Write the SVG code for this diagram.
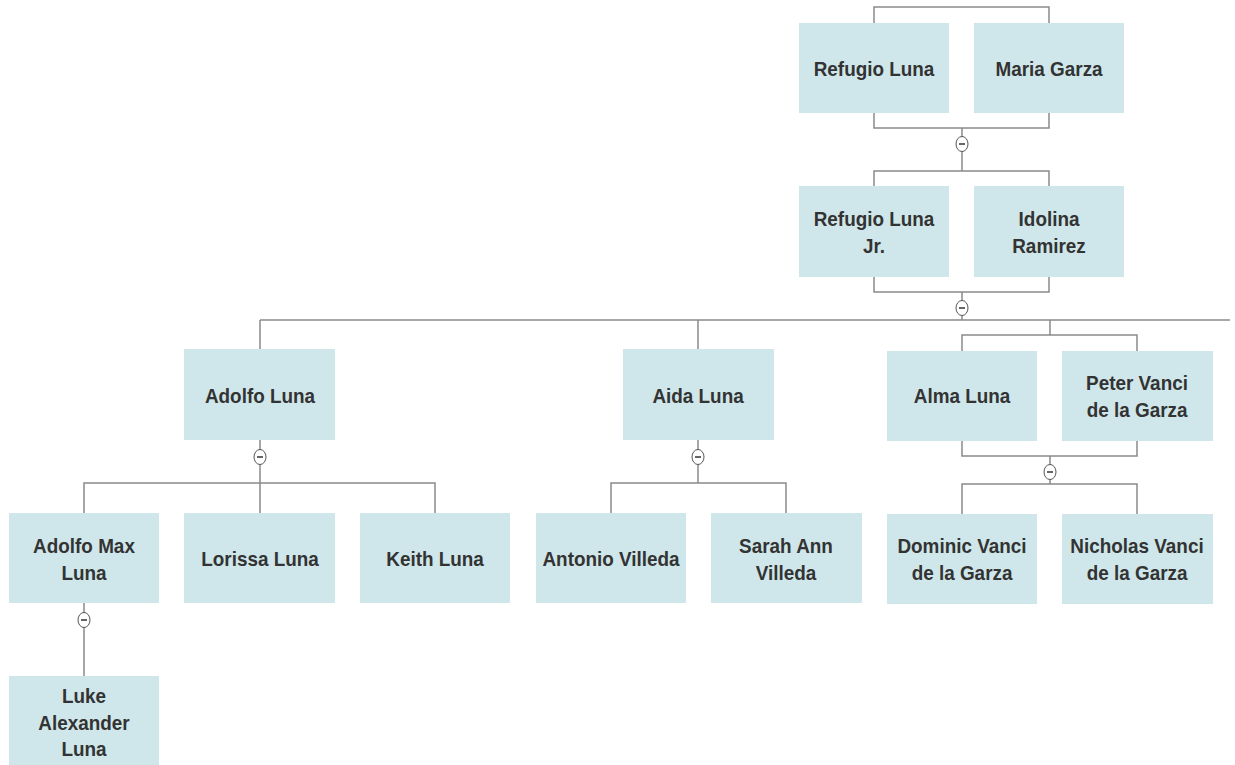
<svg xmlns="http://www.w3.org/2000/svg" width="1235" height="765" viewBox="0 0 1235 765">
  <style>
    .box { fill: #cfe7ea; }
    .lbl { font-family: "Liberation Sans", Arial, sans-serif; font-weight: bold; font-size: 21px; fill: #333333; text-anchor: middle; transform-box: fill-box; transform-origin: center; transform: scaleX(0.9); }
    .wire { fill: none; stroke: #8a8a8a; stroke-width: 1.5; }
    .tog { fill: #ffffff; stroke: #555555; stroke-width: 1; }
    .tog-bar { stroke: #333333; stroke-width: 1.5; }
  </style>
  <defs>
    <g id="toggle">
      <ellipse class="tog" cx="0" cy="0" rx="6" ry="7.5"/>
      <line class="tog-bar" x1="-3" y1="0" x2="3" y2="0"/>
    </g>
  </defs>
  <rect width="1235" height="765" fill="#ffffff"/>

  <g id="connectors">
    <!-- couple bracket: Refugio Luna / Maria Garza -->
    <path class="wire" d="M874 23 V7 H1049 V23"/>
    <path class="wire" d="M874 113 V128 H1049 V113"/>
    <path class="wire" d="M962 128 V171"/>
    <!-- couple bracket: Refugio Luna Jr. / Idolina Ramirez -->
    <path class="wire" d="M874 186 V171 H1049 V186"/>
    <path class="wire" d="M874 277 V292 H1049 V277"/>
    <path class="wire" d="M962 292 V320"/>
    <!-- children bus -->
    <path class="wire" d="M260 320 H1230"/>
    <path class="wire" d="M260 320 V349"/>
    <path class="wire" d="M698 320 V349"/>
    <path class="wire" d="M1050 320 V335"/>
    <path class="wire" d="M962 351 V335 H1137 V351"/>
    <!-- Adolfo Luna's children -->
    <path class="wire" d="M260 440 V483"/>
    <path class="wire" d="M84 513 V483 H435 V513"/>
    <path class="wire" d="M260 483 V513"/>
    <!-- Adolfo Max Luna's child -->
    <path class="wire" d="M84 603 V676"/>
    <!-- Aida Luna's children -->
    <path class="wire" d="M698 440 V483"/>
    <path class="wire" d="M611 513 V483 H786 V513"/>
    <!-- Alma Luna / Peter Vanci's children -->
    <path class="wire" d="M962 441 V456 H1137 V441"/>
    <path class="wire" d="M1050 456 V484"/>
    <path class="wire" d="M962 514 V484 H1137 V514"/>
    <!-- collapse toggles -->
    <use href="#toggle" x="962" y="144"/>
    <use href="#toggle" x="962" y="308"/>
    <use href="#toggle" x="260" y="457"/>
    <use href="#toggle" x="698" y="457"/>
    <use href="#toggle" x="1050" y="472"/>
    <use href="#toggle" x="84" y="620"/>
  </g>

  <g id="refugio-luna">
    <rect class="box" x="799" y="23" width="150" height="90"/>
    <text class="lbl" x="874" y="76">Refugio Luna</text>
  </g>
  <g id="maria-garza">
    <rect class="box" x="974" y="23" width="150" height="90"/>
    <text class="lbl" x="1049" y="76">Maria Garza</text>
  </g>

  <g id="refugio-luna-jr">
    <rect class="box" x="799" y="186" width="150" height="91"/>
    <text class="lbl" x="874" y="226">Refugio Luna</text>
    <text class="lbl" x="874" y="253">Jr.</text>
  </g>
  <g id="idolina-ramirez">
    <rect class="box" x="974" y="186" width="150" height="91"/>
    <text class="lbl" x="1049" y="226">Idolina</text>
    <text class="lbl" x="1049" y="253">Ramirez</text>
  </g>

  <g id="adolfo-luna">
    <rect class="box" x="184" y="349" width="151" height="91"/>
    <text class="lbl" x="260" y="403">Adolfo Luna</text>
  </g>
  <g id="aida-luna">
    <rect class="box" x="623" y="349" width="151" height="91"/>
    <text class="lbl" x="698" y="403">Aida Luna</text>
  </g>
  <g id="alma-luna">
    <rect class="box" x="887" y="351" width="150" height="90"/>
    <text class="lbl" x="962" y="403">Alma Luna</text>
  </g>
  <g id="peter-vanci">
    <rect class="box" x="1062" y="351" width="151" height="90"/>
    <text class="lbl" x="1137" y="390">Peter Vanci</text>
    <text class="lbl" x="1137" y="417">de la Garza</text>
  </g>

  <g id="adolfo-max-luna">
    <rect class="box" x="9" y="513" width="150" height="90"/>
    <text class="lbl" x="84" y="553">Adolfo Max</text>
    <text class="lbl" x="84" y="580">Luna</text>
  </g>
  <g id="lorissa-luna">
    <rect class="box" x="184" y="513" width="151" height="90"/>
    <text class="lbl" x="260" y="566">Lorissa Luna</text>
  </g>
  <g id="keith-luna">
    <rect class="box" x="360" y="513" width="150" height="90"/>
    <text class="lbl" x="435" y="566">Keith Luna</text>
  </g>
  <g id="antonio-villeda">
    <rect class="box" x="536" y="513" width="150" height="90"/>
    <text class="lbl" x="611" y="566">Antonio Villeda</text>
  </g>
  <g id="sarah-ann-villeda">
    <rect class="box" x="711" y="513" width="151" height="90"/>
    <text class="lbl" x="786" y="553">Sarah Ann</text>
    <text class="lbl" x="786" y="580">Villeda</text>
  </g>
  <g id="dominic-vanci">
    <rect class="box" x="887" y="514" width="150" height="90"/>
    <text class="lbl" x="962" y="553">Dominic Vanci</text>
    <text class="lbl" x="962" y="580">de la Garza</text>
  </g>
  <g id="nicholas-vanci">
    <rect class="box" x="1062" y="514" width="151" height="90"/>
    <text class="lbl" x="1137" y="553">Nicholas Vanci</text>
    <text class="lbl" x="1137" y="580">de la Garza</text>
  </g>

  <g id="luke-alexander-luna">
    <rect class="box" x="9" y="676" width="150" height="90"/>
    <text class="lbl" x="84" y="703">Luke</text>
    <text class="lbl" x="84" y="730">Alexander</text>
    <text class="lbl" x="84" y="756">Luna</text>
  </g>
</svg>
